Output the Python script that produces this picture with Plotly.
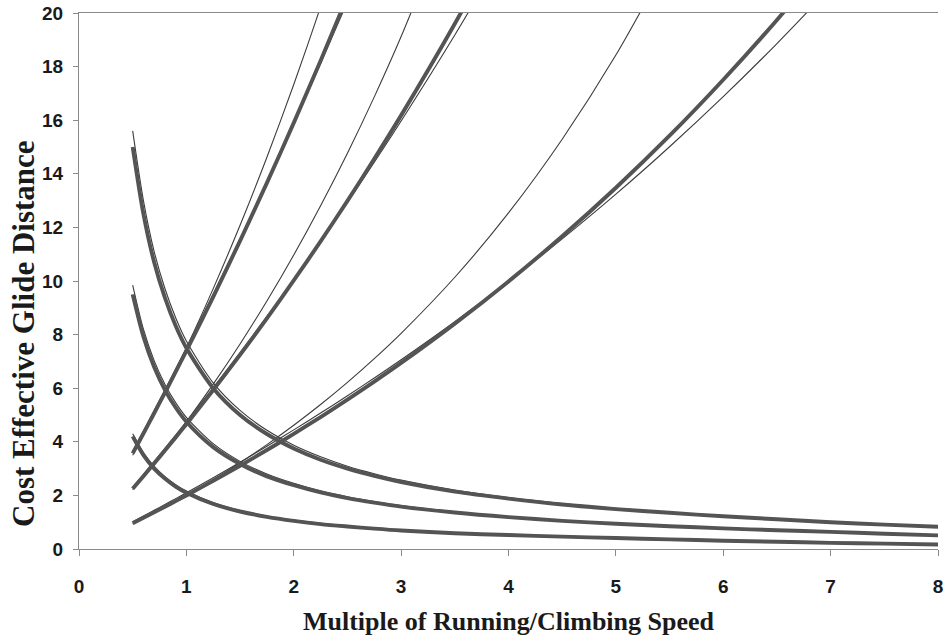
import plotly.graph_objects as go

# Multiple of running/climbing speed (x grid)
speed = [0.5, 0.6, 0.7, 0.8, 0.9, 1.0, 1.25, 1.5, 1.75, 2.0, 2.25, 2.5, 2.75, 3.0,
         3.5, 4.0, 4.5, 5.0, 5.5, 6.0, 6.5, 7.0, 7.5, 8.0]

# Decreasing curves (thick + thin companions)
dec_top_thick = [15.0, 12.5, 10.7, 9.38, 8.33, 7.5, 6.0, 5.0, 4.29, 3.75, 3.33, 3.0, 2.73, 2.5,
                 2.14, 1.88, 1.66, 1.49, 1.35, 1.22, 1.11, 1.0, 0.91, 0.83]
dec_top_thin = [15.6, 13.0, 11.1, 9.72, 8.63, 7.76, 6.2, 5.17, 4.43, 3.87, 3.44, 3.09, 2.81, 2.57,
                2.2, 1.92, 1.7, 1.52, 1.37, 1.24, 1.12, 1.01, 0.92, 0.84]
dec_mid_thick = [9.5, 7.92, 6.79, 5.94, 5.28, 4.75, 3.8, 3.17, 2.71, 2.38, 2.11, 1.9, 1.73, 1.58,
                 1.36, 1.19, 1.05, 0.94, 0.85, 0.77, 0.70, 0.64, 0.57, 0.51]
dec_mid_thin = [9.85, 8.2, 7.03, 6.15, 5.46, 4.91, 3.93, 3.27, 2.8, 2.45, 2.17, 1.95, 1.77, 1.62,
                1.39, 1.21, 1.07, 0.95, 0.86, 0.78, 0.71, 0.64, 0.58, 0.51]
dec_low_thick = [4.2, 3.5, 3.0, 2.63, 2.33, 2.1, 1.68, 1.4, 1.2, 1.05, 0.93, 0.84, 0.76, 0.69,
                 0.59, 0.52, 0.46, 0.41, 0.36, 0.31, 0.27, 0.23, 0.20, 0.17]
dec_low_thin = [4.3, 3.6, 3.08, 2.7, 2.4, 2.16, 1.73, 1.44, 1.23, 1.08, 0.96, 0.86, 0.77, 0.70,
                0.60, 0.52, 0.46, 0.41, 0.36, 0.31, 0.27, 0.23, 0.20, 0.17]

# Increasing curves (thick, thin upper, thin lower)
inc_top_thick = [3.567, 4.311, 5.066, 5.831, 6.607, 7.393, 9.41, 11.5, 13.66, 15.9, 18.22, 20.62]
inc_top_thin_a = [3.498, 4.256, 5.034, 5.835, 6.656, 7.501, 9.715, 12.08, 14.62, 17.33, 20.23, 23.33]
inc_top_thin_b = [3.647, 4.401, 5.163, 5.933, 6.713, 7.5, 9.507, 11.57, 13.69, 15.87, 18.11, 20.42]

inc_mid_thick = [2.248, 2.717, 3.192, 3.674, 4.163, 4.658, 5.929, 7.244, 8.606, 10.02, 11.48, 12.99,
                 14.56, 16.18, 19.6, 23.27]
inc_mid_thin_a = [2.214, 2.694, 3.187, 3.694, 4.214, 4.749, 6.15, 7.65, 9.253, 10.97, 12.81, 14.77,
                  16.87, 19.12, 24.1]
inc_mid_thin_b = [2.31, 2.787, 3.27, 3.758, 4.251, 4.75, 6.021, 7.328, 8.672, 10.05, 11.47, 12.93,
                  14.43, 15.97, 19.18, 22.58]

inc_low_thick = [0.964, 1.166, 1.369, 1.576, 1.786, 1.999, 2.544, 3.108, 3.692, 4.298, 4.924, 5.574,
                 6.246, 6.942, 8.41, 9.984, 11.67, 13.48, 15.42, 17.51, 19.74, 22.14]
inc_low_thin_a = [0.932, 1.134, 1.342, 1.555, 1.774, 1.999, 2.589, 3.221, 3.896, 4.618, 5.391, 6.218,
                  7.103, 8.049, 10.14, 12.54, 15.29, 18.43, 22.03]
inc_low_thin_b = [1.021, 1.232, 1.446, 1.661, 1.88, 2.1, 2.662, 3.24, 3.834, 4.444, 5.072, 5.717,
                  6.38, 7.061, 8.481, 9.982, 11.57, 13.24, 15.01, 16.88, 18.86, 20.95]

x_ticks = [0, 1, 2, 3, 4, 5, 6, 7, 8]
y_ticks = [0, 2, 4, 6, 8, 10, 12, 14, 16, 18, 20]

THICK = dict(color="#545454", width=3.9, shape="spline", smoothing=0.8)
THIN = dict(color="#3c3c3c", width=1.1, shape="spline", smoothing=0.8)

fig = go.Figure()
thick_series = [dec_top_thick, dec_mid_thick, dec_low_thick,
                inc_top_thick, inc_mid_thick, inc_low_thick]
thin_series = [dec_top_thin, dec_mid_thin, dec_low_thin,
               inc_top_thin_a, inc_top_thin_b, inc_mid_thin_a, inc_mid_thin_b,
               inc_low_thin_a, inc_low_thin_b]

for ys in thin_series:
    fig.add_trace(go.Scatter(x=speed[:len(ys)], y=ys, mode="lines", line=THIN,
                             showlegend=False, hoverinfo="skip"))
for ys in thick_series:
    fig.add_trace(go.Scatter(x=speed[:len(ys)], y=ys, mode="lines", line=THICK,
                             showlegend=False, hoverinfo="skip"))

tick_font = dict(family="Liberation Sans, Arial, sans-serif", size=19, color="#1a1a1a", weight="bold")
xtitle_font = dict(family="Liberation Serif, Times New Roman, serif", size=26, color="#1a1a1a", weight="bold")
ytitle_font = dict(family="Liberation Serif, Times New Roman, serif", size=31, color="#1a1a1a", weight="bold")

fig.update_layout(
    width=945, height=636,
    margin=dict(l=79, r=7, t=13, b=87, autoexpand=False),
    paper_bgcolor="white", plot_bgcolor="white",
    xaxis=dict(range=[0, 8], tickvals=x_ticks, ticktext=[str(v) for v in x_ticks],
               automargin=False,
               showgrid=False, zeroline=False, showline=True, linecolor="#8a8a8a", linewidth=1,
               mirror=True, ticks="outside", ticklen=6, tickcolor="#8a8a8a",
               tickfont=tick_font, ticklabelstandoff=14, ticklabeloverflow="allow",
               title=dict(text="Multiple of Running/Climbing Speed", font=xtitle_font, standoff=16)),
    yaxis=dict(range=[0, 20], tickvals=y_ticks, ticktext=[str(v) for v in y_ticks],
               automargin=False,
               showgrid=False, zeroline=False, showline=True, linecolor="#8a8a8a", linewidth=1,
               ticks="outside", ticklen=5, tickcolor="#8a8a8a",
               tickfont=tick_font, ticklabelstandoff=6),
    annotations=[dict(text="Cost Effective Glide Distance", textangle=-90,
                      xref="paper", yref="paper", x=0, y=(549 - 334) / 536,
                      xanchor="center", yanchor="middle", xshift=-56, showarrow=False,
                      font=ytitle_font)],
)

fig.write_html("out.html")
